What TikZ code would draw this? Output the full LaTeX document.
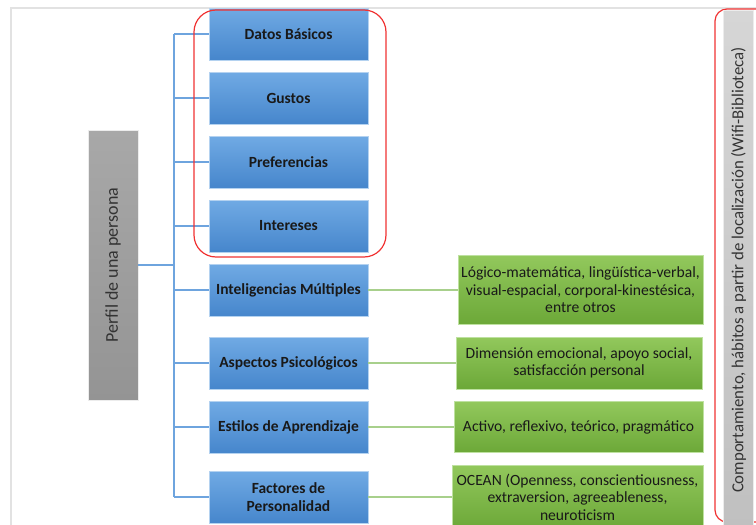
\documentclass[tikz,border=0pt]{standalone}
\usepackage{fontspec}
\setmainfont{Carlito}
\usetikzlibrary{calc}
\definecolor{bluetop}{RGB}{112,170,228}
\definecolor{bluebot}{RGB}{70,134,204}
\definecolor{blueedge}{RGB}{180,210,240}
\definecolor{greentop}{RGB}{146,200,92}
\definecolor{greenbot}{RGB}{108,168,56}
\definecolor{greenedge}{RGB}{190,225,160}
\definecolor{graytop}{RGB}{168,168,168}
\definecolor{graybot}{RGB}{148,148,148}
\definecolor{lgraytop}{RGB}{214,214,214}
\definecolor{lgraybot}{RGB}{192,192,192}
\definecolor{connblue}{RGB}{110,164,222}
\definecolor{conngreen}{RGB}{168,208,140}
\definecolor{markred}{RGB}{240,50,50}
\definecolor{framegray}{RGB}{226,226,226}
\tikzset{
  bluebox/.style={draw=blueedge, line width=0.8pt, top color=bluetop, bottom color=bluebot,
    minimum width=159pt, minimum height=52pt, inner sep=0pt, align=center,
    font=\fontsize{15.5}{18}\selectfont\bfseries, text=black!90},
  greenbox/.style={draw=greenedge, line width=0.8pt, top color=greentop, bottom color=greenbot,
    inner sep=0pt, align=center, font=\fontsize{15.6}{17.5}\selectfont, text=black!90},
  graybox/.style={draw=white!85!gray, line width=0.8pt, top color=graytop, bottom color=graybot,
    inner sep=0pt, align=center, text=black!80},
  lgraybox/.style={draw=white!85!gray, line width=0.8pt, top color=lgraytop, bottom color=lgraybot,
    inner sep=0pt, align=center, text=black!80},
  conn/.style={draw=connblue, line width=2pt},
  gconn/.style={draw=conngreen, line width=2pt},
  redframe/.style={draw=markred, line width=1.2pt, rounded corners=22pt},
}
\begin{document}
\begin{tikzpicture}[x=1pt,y=-1pt]
\useasboundingbox (0,0) rectangle (756,525);
\clip (0,0) rectangle (756,525);
% page frame
\draw[framegray, line width=1.2pt] (11,525) -- (11,8) -- (756,8);

% branch trunk position
\coordinate (trunkx) at (174,0);

% central profile box
\node[graybox, minimum width=270pt, minimum height=50pt, rotate=90,
      font=\fontsize{18}{20}\selectfont] (perfil) at (113,265) {Perfil de una persona};

% blue category boxes
\node[bluebox] (datos)    at (288.5,34)  {Datos Básicos};
\node[bluebox] (gustos)   at (288.5,98)  {Gustos};
\node[bluebox] (pref)     at (288.5,162) {Preferencias};
\node[bluebox] (inter)    at (288.5,226) {Intereses};
\node[bluebox] (intel)    at (288.5,290) {Inteligencias Múltiples};
\node[bluebox] (aspect)   at (288.5,363) {Aspectos Psicológicos};
\node[bluebox] (estilos)  at (288.5,427) {Estilos de Aprendizaje};
\node[bluebox] (factores) at (288.5,497) {Factores de\\Personalidad};

% green detail boxes
\node[greenbox, minimum width=245pt, minimum height=69pt] (g1) at (580.5,290)
  {Lógico-matemática, lingüística-verbal,\\visual-espacial, corporal-kinestésica,\\entre otros};
\node[greenbox, minimum width=246pt, minimum height=52pt] (g2) at (579,363)
  {Dimensión emocional, apoyo social,\\satisfacción personal};
\node[greenbox, minimum width=249pt, minimum height=51pt] (g3) at (578.5,427)
  {Activo, reflexivo, teórico, pragmático};
\node[greenbox, minimum width=251pt, minimum height=64pt] (g4) at (577.5,497)
  {OCEAN (Openness, conscientiousness,\\extraversion, agreeableness,\\neuroticism};

% connectors: profile -> trunk -> categories
\draw[conn] (datos.west -| trunkx) -- (factores.west -| trunkx);
\draw[conn] (perfil.south) -- (perfil.south -| trunkx);
\foreach \n in {datos,gustos,pref,inter,intel,aspect,estilos,factores}
  \draw[conn] (\n.west -| trunkx) -- (\n.west);

% connectors: categories -> details
\draw[gconn] (intel.east)    -- (intel.east -| g1.west);
\draw[gconn] (aspect.east)   -- (aspect.east -| g2.west);
\draw[gconn] (estilos.east)  -- (estilos.east -| g3.west);
\draw[gconn] (factores.east) -- (factores.east -| g4.west);

% highlighted group
\draw[redframe] (194,10) rectangle (386,257);

% location behaviour side box
\draw[redframe, rounded corners=12pt] (715,9) rectangle (800,522);
\node[lgraybox, minimum width=520pt, minimum height=30pt, rotate=90,
      font=\fontsize{16.8}{18}\selectfont] (comp) at (738.5,270)
  {Comportamiento, hábitos a partir de localización (Wifi-Biblioteca)};
\end{tikzpicture}
\end{document}
